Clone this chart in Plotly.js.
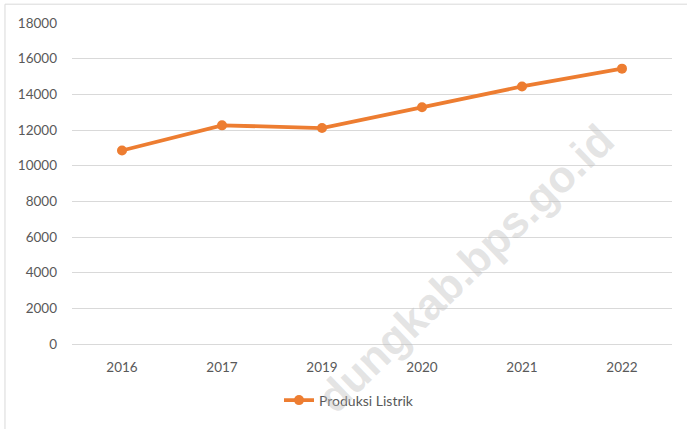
<!DOCTYPE html>
<html>
<head>
<meta charset="utf-8">
<script src="https://cdn.plot.ly/plotly-3.0.1.min.js"></script>
<style>html,body{margin:0;padding:0;background:#fff;}#chart{width:687px;height:429px;}</style>
</head>
<body>
<div id="chart"></div>
<script>
const years = ['2016', '2017', '2019', '2020', '2021', '2022'];
const produksiListrik = [10850, 12260, 12110, 13280, 14440, 15440];
const yTicks = [0, 2000, 4000, 6000, 8000, 10000, 12000, 14000, 16000, 18000];
const seriesName = 'Produksi Listrik';
const watermark = 'dungkab.bps.go.id';

const trace = {
  x: years,
  y: produksiListrik,
  type: 'scatter',
  mode: 'lines+markers',
  name: seriesName,
  line: {color: '#ED7D31', width: 3.8},
  marker: {color: '#ED7D31', size: 10},
  hoverinfo: 'x+y'
};

const layout = {
  width: 687,
  height: 429,
  margin: {l: 72, r: 15, t: 23, b: 82},
  paper_bgcolor: '#ffffff',
  plot_bgcolor: '#ffffff',
  font: {family: 'Lato, "Open Sans", sans-serif', size: 13.5, color: '#595959'},
  showlegend: true,
  legend: {
    orientation: 'h',
    x: 0.345, xanchor: 'left',
    y: -0.176, yanchor: 'middle',
    font: {size: 14, color: '#595959'},
    bgcolor: 'rgba(0,0,0,0)'
  },
  xaxis: {
    type: 'category',
    range: [-0.5, 5.5],
    showgrid: false,
    showline: false,
    zeroline: false,
    ticks: '',
    ticklabelstandoff: 13,
    tickfont: {size: 13.5, color: '#595959'}
  },
  yaxis: {
    range: [0, 18000],
    tickvals: yTicks,
    ticktext: yTicks.map(String),
    showgrid: true,
    gridcolor: '#d9d9d9',
    gridwidth: 1,
    zeroline: true,
    zerolinecolor: '#d9d9d9',
    zerolinewidth: 1,
    showline: false,
    ticks: '',
    ticklabelstandoff: 14,
    tickfont: {size: 13.5, color: '#595959'}
  },
  shapes: [{
    type: 'rect', xref: 'paper', yref: 'paper',
    x0: -0.1117, x1: 1.05, y0: -0.6, y1: 1.0586,
    line: {color: '#d9d9d9', width: 1}, fillcolor: 'rgba(0,0,0,0)'
  }],
  annotations: [{
    text: watermark,
    xref: 'paper', yref: 'paper',
    x: 0.655, y: 0.235,
    xanchor: 'center', yanchor: 'middle',
    showarrow: false,
    textangle: -44,
    font: {family: 'Liberation Sans, Arial, sans-serif', size: 44, color: 'rgba(190,190,190,0.42)', weight: 'bold'}
  }]
};

Plotly.newPlot('chart', [trace], layout, {displayModeBar: false, staticPlot: true});
</script>
</body>
</html>
